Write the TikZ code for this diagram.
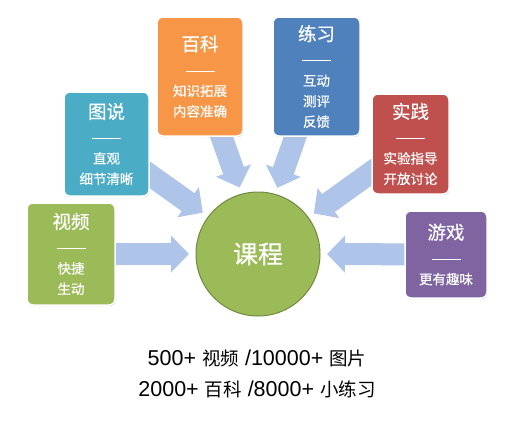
\documentclass[tikz,border=0pt]{standalone}
\usepackage{fontspec}
\setmainfont{Liberation Sans}
\newfontfamily\cjk{Noto Sans CJK SC}
\newfontfamily\cjkcard[FakeBold=0.5]{Noto Sans CJK SC}
\usetikzlibrary{arrows.meta, shadows, backgrounds}

\definecolor{cardorange}{HTML}{F79646}
\definecolor{cardteal}{HTML}{4BACC6}
\definecolor{cardblue}{HTML}{4F81BD}
\definecolor{cardred}{HTML}{C0504D}
\definecolor{cardgreen}{HTML}{9BBB59}
\definecolor{cardpurple}{HTML}{8064A2}
\definecolor{ringgreen}{HTML}{71893F}
\definecolor{arrowblue}{RGB}{174,196,232}

\newcommand{\cardtitle}[1]{{\fontsize{18.5}{18.5}\selectfont #1}}
\newcommand{\cardrule}{\rule[4pt]{29pt}{0.8pt}}
\newcommand{\zh}[1]{{\cjk\fontsize{18.5}{31}\selectfont #1}}

\begin{document}
\begin{tikzpicture}[x=1pt, y=-1pt,
    card/.style={rectangle, draw=white, line width=1.5pt, rounded corners=6pt,
        text=white, align=center, inner sep=0pt,
        font=\cjkcard\fontsize{13.5}{20.5}\selectfont,
        drop shadow={shadow xshift=0.6pt, shadow yshift=-1.2pt, opacity=0.3}},
    feed/.style={line width=22pt, draw=arrowblue,
        -{Triangle[length=18pt, width=36pt]}, shorten >=7pt}]
        \useasboundingbox (0,0) rectangle (532,426);

        % Course (centre)
        \node[circle, fill=cardgreen, draw=ringgreen, line width=1pt,
            minimum size=124pt, inner sep=0pt, outer sep=0pt, text=white,
            font=\cjkcard\fontsize{25}{25}\selectfont] (course) at (258,254) {课程};

        % Cards
        \node[card, fill=cardorange, minimum width=86pt, minimum height=119pt] (wiki) at (200,76.5)
            {\cardtitle{百科}\\[4pt] \cardrule\\ 知识拓展\\ 内容准确};
        \node[card, fill=cardteal, minimum width=85pt, minimum height=104pt] (pics) at (106.5,144)
            {\cardtitle{图说}\\[4pt] \cardrule\\ 直观\\ 细节清晰};
        \node[card, fill=cardblue, minimum width=87pt, minimum height=119pt] (drill) at (316.5,76.5)
            {\cardtitle{练习}\\[4pt] \cardrule\\ 互动\\ 测评\\ 反馈};
        \node[card, fill=cardred, minimum width=77pt, minimum height=100pt] (lab) at (410.5,144)
            {\cardtitle{实践}\\[4pt] \cardrule\\ 实验指导\\ 开放讨论};
        \node[card, fill=cardgreen, minimum width=88pt, minimum height=102pt] (video) at (71,254)
            {\cardtitle{视频}\\[4pt] \cardrule\\ 快捷\\ 生动};
        \node[card, fill=cardpurple, minimum width=82pt, minimum height=87pt] (game) at (446,254.5)
            {\cardtitle{游戏}\\[4pt] \cardrule\\ 更有趣味};

        % Feeding arrows
        \begin{scope}[on background layer]
            \draw[feed] (video.center) -- (course.180);
            \draw[feed] (pics.center) -- (course.143);
            \draw[feed] (wiki.center) -- (course.105);
            \draw[feed] (drill.center) -- (course.74);
            \draw[feed] (lab.center) -- (course.36);
            \draw[feed] (game.center) -- (course.0);
        \end{scope}

        % Totals
        \node[font=\fontsize{21.5}{31}\selectfont, align=center] (totals) at (257,374)
            {500+ \zh{视频} /10000+ \zh{图片}\\ 2000+ \zh{百科} /8000+ \zh{小练习}};
\end{tikzpicture}
\end{document}
